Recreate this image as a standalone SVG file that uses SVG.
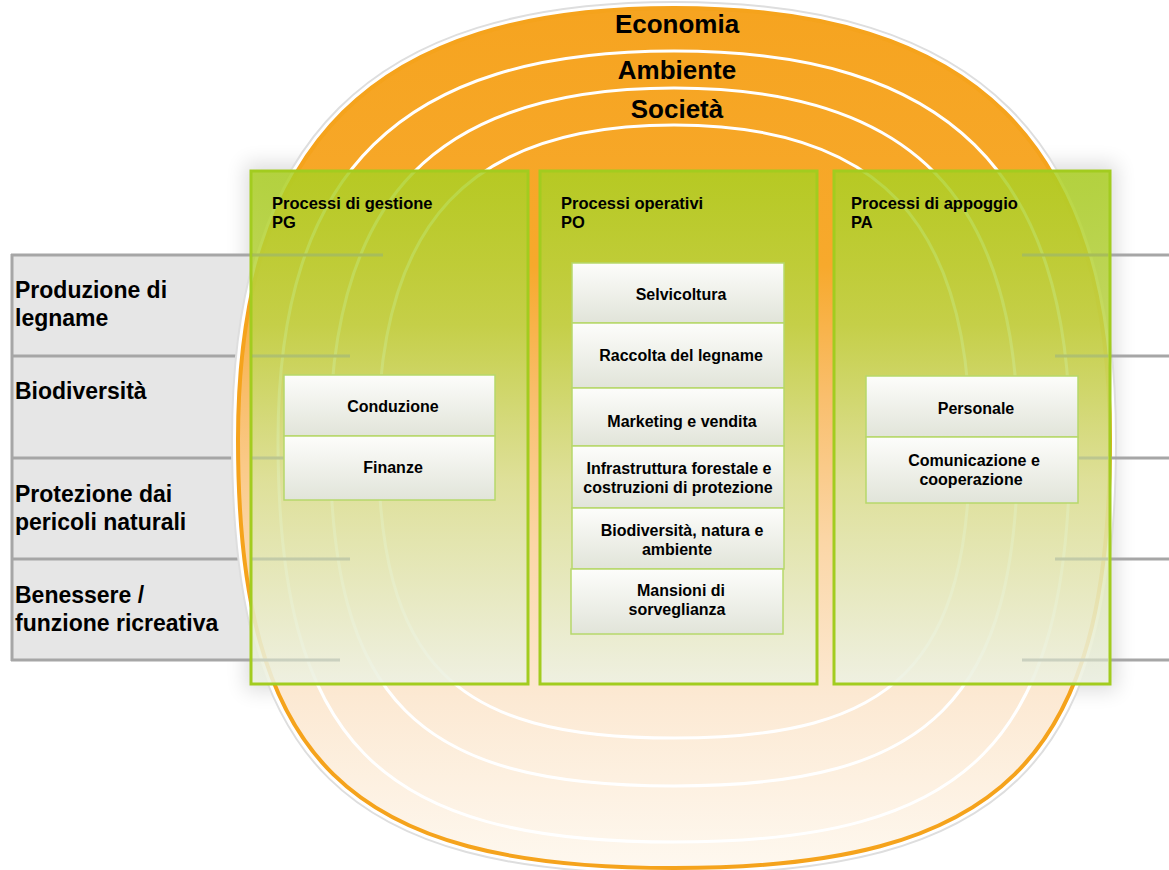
<svg xmlns="http://www.w3.org/2000/svg" width="1169" height="870" viewBox="0 0 1169 870">
<defs>
<style>
.lbl{font-family:"Liberation Sans",Arial,sans-serif;font-weight:bold;fill:#000}
.ring-title{font-size:26px;text-anchor:middle}
.row{font-size:23px}
.ttl{font-size:16.5px}
.sub{font-size:16px;text-anchor:middle}
.ring{fill:none;stroke:#fff;stroke-width:3}
.box{fill:url(#boxGrad);stroke:#A2CC1F;stroke-width:3}
.subbox{fill:url(#subGrad);stroke:#B6D86B;stroke-width:1.5}
.gline{stroke:#A6A6A6;stroke-width:3}
.gfaint{stroke:#8E9A8A;stroke-width:3;opacity:0.28}
</style>
<linearGradient id="blobGrad" gradientUnits="userSpaceOnUse" x1="0" y1="8" x2="0" y2="868">
<stop offset="0" stop-color="#F6A420"/>
<stop offset="0.3" stop-color="#F7A92C"/>
<stop offset="0.45" stop-color="#F9BE6C"/>
<stop offset="0.62" stop-color="#FBD6A6"/>
<stop offset="0.8" stop-color="#FCE9D3"/>
<stop offset="1" stop-color="#FEF8EF"/>
</linearGradient>
<linearGradient id="boxGrad" x1="0" y1="0" x2="0" y2="1">
<stop offset="0" stop-color="#ABCF22" stop-opacity="0.85"/>
<stop offset="0.3" stop-color="#BCD448" stop-opacity="0.85"/>
<stop offset="0.6" stop-color="#D9E39A" stop-opacity="0.85"/>
<stop offset="1" stop-color="#EDF1E3" stop-opacity="0.88"/>
</linearGradient>
<linearGradient id="subGrad" x1="0" y1="0" x2="0" y2="1">
<stop offset="0" stop-color="#FDFDFB"/>
<stop offset="1" stop-color="#E1E4D9"/>
</linearGradient>
<filter id="blur" x="-10%" y="-10%" width="120%" height="120%">
<feGaussianBlur stdDeviation="10"/>
</filter>
<path id="blobPath" d="M674,8 C974.8,8 1110,142 1110,440 C1110,761 1001,868 674,868 C347,868 238,761 238,440 C238,142 373.2,8 674,8 Z"/>
</defs>

<rect width="1169" height="870" fill="#fff"/>

<!-- soft shadow behind process boxes -->
<rect x="245" y="163" width="872" height="528" fill="#000" opacity="0.13" filter="url(#blur)"/>

<!-- left rows -->
<g id="rows">
<rect x="11" y="255" width="245" height="405" fill="#E6E6E6"/>
<line class="gline" x1="11" y1="255" x2="256" y2="255"/>
<line class="gline" x1="11" y1="356" x2="256" y2="356"/>
<line class="gline" x1="11" y1="458" x2="256" y2="458"/>
<line class="gline" x1="11" y1="559" x2="256" y2="559"/>
<line class="gline" x1="11" y1="660" x2="256" y2="660"/>
<line class="gline" x1="12" y1="254" x2="12" y2="661"/>
</g>

<!-- rings -->
<g id="rings">
<use href="#blobPath" fill="none" stroke="#DEDEDE" stroke-width="14"/>
<use href="#blobPath" fill="none" stroke="#FFFFFF" stroke-width="10"/>
<use href="#blobPath" fill="url(#blobGrad)" stroke="#F5A31C" stroke-width="4"/>
<path class="ring" d="M674,51 C947,51 1070,171 1070,440 C1070,741.5 971,842 674,842 C377,842 278,741.5 278,440 C278,171 401,51 674,51 Z"/>
<path class="ring" d="M674,88 C911,88 1018,197 1018,440 C1018,700 932,786 674,786 C416,786 330,700 330,440 C330,197 437,88 674,88 Z"/>
<path class="ring" d="M674,125 C878,125 970,222 970,440 C970,664 896,738 674,738 C452,738 378,664 378,440 C378,222 470,125 674,125 Z"/>
<text class="lbl ring-title" x="677" y="33">Economia</text>
<text class="lbl ring-title" x="677" y="79">Ambiente</text>
<text class="lbl ring-title" x="677" y="118">Società</text>
</g>

<!-- horizontal connector lines across -->
<g id="connectors">
<line class="gline" x1="250" y1="255" x2="383" y2="255"/>
<line class="gline" x1="250" y1="356" x2="350" y2="356"/>
<line class="gline" x1="250" y1="458" x2="350" y2="458"/>
<line class="gline" x1="250" y1="559" x2="350" y2="559"/>
<line class="gline" x1="250" y1="660" x2="340" y2="660"/>
<line class="gline" x1="1022" y1="255" x2="1169" y2="255"/>
<line class="gline" x1="1055" y1="356" x2="1169" y2="356"/>
<line class="gline" x1="1055" y1="458" x2="1169" y2="458"/>
<line class="gline" x1="1055" y1="559" x2="1169" y2="559"/>
<line class="gline" x1="1022" y1="660" x2="1169" y2="660"/>
</g>

<g id="row-labels">
<text class="lbl row" x="15" y="298">Produzione di</text>
<text class="lbl row" x="15" y="326">legname</text>
<text class="lbl row" x="15" y="399">Biodiversità</text>
<text class="lbl row" x="15" y="502">Protezione dai</text>
<text class="lbl row" x="15" y="530">pericoli naturali</text>
<text class="lbl row" x="15" y="603">Benessere /</text>
<text class="lbl row" x="15" y="631">funzione ricreativa</text>
</g>

<!-- PG -->
<g id="PG">
<rect class="box" x="251" y="171" width="277" height="513"/>
<line class="gfaint" x1="252" y1="255" x2="383" y2="255"/>
<line class="gfaint" x1="252" y1="356" x2="350" y2="356"/>
<line class="gfaint" x1="252" y1="458" x2="350" y2="458"/>
<line class="gfaint" x1="252" y1="559" x2="350" y2="559"/>
<line class="gfaint" x1="252" y1="660" x2="340" y2="660"/>
<text class="lbl ttl" x="272" y="209">Processi di gestione</text>
<text class="lbl ttl" x="272" y="228">PG</text>
</g>
<g id="PG-conduzione">
<rect class="subbox" x="284" y="375" width="211" height="61"/>
<text class="lbl sub" x="393" y="412">Conduzione</text>
</g>
<g id="PG-finanze">
<rect class="subbox" x="284" y="436" width="211" height="64"/>
<text class="lbl sub" x="393" y="473">Finanze</text>
</g>

<!-- PO -->
<g id="PO">
<rect class="box" x="540" y="171" width="277" height="513"/>
<text class="lbl ttl" x="561" y="209">Processi operativi</text>
<text class="lbl ttl" x="561" y="228">PO</text>
</g>
<g id="PO-selvicoltura">
<rect class="subbox" x="572" y="263" width="212" height="60"/>
<text class="lbl sub" x="681" y="300">Selvicoltura</text>
</g>
<g id="PO-raccolta">
<rect class="subbox" x="572" y="323" width="212" height="65"/>
<text class="lbl sub" x="681" y="361">Raccolta del legname</text>
</g>
<g id="PO-marketing">
<rect class="subbox" x="572" y="388" width="212" height="58"/>
<text class="lbl sub" x="682" y="427">Marketing e vendita</text>
</g>
<g id="PO-infrastruttura">
<rect class="subbox" x="572" y="446" width="212" height="62"/>
<text class="lbl sub" x="679" y="474">Infrastruttura forestale e</text>
<text class="lbl sub" x="678" y="493">costruzioni di protezione</text>
</g>
<g id="PO-biodiversita">
<rect class="subbox" x="572" y="508" width="212" height="61"/>
<text class="lbl sub" x="682" y="536">Biodiversità, natura e</text>
<text class="lbl sub" x="677" y="555">ambiente</text>
</g>
<g id="PO-mansioni">
<rect class="subbox" x="571" y="569" width="212" height="65"/>
<text class="lbl sub" x="681" y="596">Mansioni di</text>
<text class="lbl sub" x="677" y="615">sorveglianza</text>
</g>

<!-- PA -->
<g id="PA">
<rect class="box" x="834" y="171" width="276" height="513"/>
<line class="gfaint" x1="1022" y1="255" x2="1108" y2="255"/>
<line class="gfaint" x1="1055" y1="356" x2="1108" y2="356"/>
<line class="gfaint" x1="1055" y1="458" x2="1108" y2="458"/>
<line class="gfaint" x1="1055" y1="559" x2="1108" y2="559"/>
<line class="gfaint" x1="1022" y1="660" x2="1108" y2="660"/>
<text class="lbl ttl" x="851" y="209">Processi di appoggio</text>
<text class="lbl ttl" x="851" y="228">PA</text>
</g>
<g id="PA-personale">
<rect class="subbox" x="866" y="376" width="212" height="61"/>
<text class="lbl sub" x="976" y="414">Personale</text>
</g>
<g id="PA-comunicazione">
<rect class="subbox" x="866" y="437" width="212" height="66"/>
<text class="lbl sub" x="974" y="466">Comunicazione e</text>
<text class="lbl sub" x="971" y="485">cooperazione</text>
</g>
</svg>
